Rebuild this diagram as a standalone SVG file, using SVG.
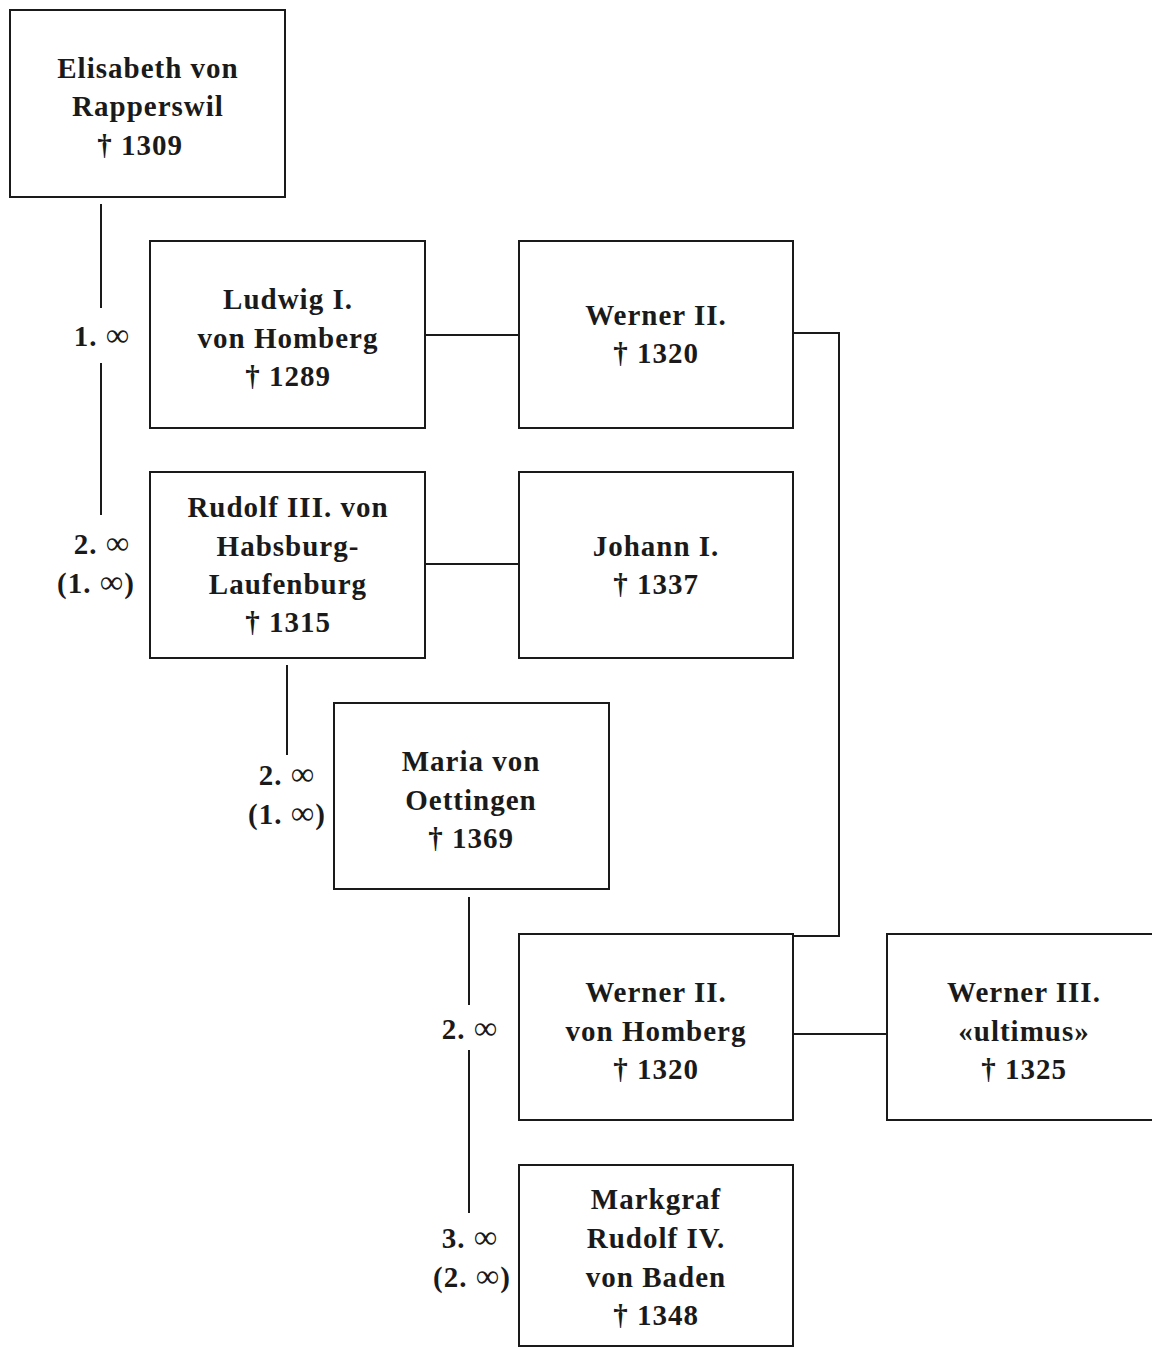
<svg xmlns="http://www.w3.org/2000/svg" width="1152" height="1348" viewBox="0 0 1152 1348">
<style>
.box{fill:#fff;stroke:#1a1a1a;stroke-width:2}
.ln{fill:none;stroke:#1a1a1a;stroke-width:2}
text{font-family:"Liberation Serif","DejaVu Serif",serif;font-weight:bold;font-size:29px;letter-spacing:1px;fill:#1a1a1a;text-anchor:middle}
.inf{font-size:33px;font-weight:normal}
</style>
<rect width="1152" height="1348" fill="#fff"/>
<g id="connectors">
<path class="ln" d="M101 204V308M101 363V515"/>
<path class="ln" d="M425 335H519"/>
<path class="ln" d="M793 333H839V936H793"/>
<path class="ln" d="M425 564H519"/>
<path class="ln" d="M287 665V755"/>
<path class="ln" d="M469 897V1005M469 1050V1213"/>
<path class="ln" d="M793 1034H887"/>
<text x="102" y="346">1. <tspan class="inf">∞</tspan></text>
<text x="102" y="554">2. <tspan class="inf">∞</tspan></text>
<text x="96" y="593">(1. <tspan class="inf">∞</tspan>)</text>
<text x="287" y="785">2. <tspan class="inf">∞</tspan></text>
<text x="287" y="824">(1. <tspan class="inf">∞</tspan>)</text>
<text x="470" y="1039">2. <tspan class="inf">∞</tspan></text>
<text x="470" y="1248">3. <tspan class="inf">∞</tspan></text>
<text x="472" y="1287">(2. <tspan class="inf">∞</tspan>)</text>
</g>
<g id="elisabeth">
<rect class="box" x="10" y="10" width="275" height="187"/>
<text x="148" y="78">Elisabeth von</text>
<text x="148" y="116">Rapperswil</text>
<text x="140" y="155">† 1309</text>
</g>
<g id="ludwig">
<rect class="box" x="150" y="241" width="275" height="187"/>
<text x="288" y="309">Ludwig I.</text>
<text x="288" y="348">von Homberg</text>
<text x="288" y="386">† 1289</text>
</g>
<g id="werner2a">
<rect class="box" x="519" y="241" width="274" height="187"/>
<text x="656" y="325">Werner II.</text>
<text x="656" y="363">† 1320</text>
</g>
<g id="rudolf3">
<rect class="box" x="150" y="472" width="275" height="186"/>
<text x="288" y="517">Rudolf III. von</text>
<text x="288" y="556">Habsburg-</text>
<text x="288" y="594">Laufenburg</text>
<text x="288" y="632">† 1315</text>
</g>
<g id="johann">
<rect class="box" x="519" y="472" width="274" height="186"/>
<text x="656" y="556">Johann I.</text>
<text x="656" y="594">† 1337</text>
</g>
<g id="maria">
<rect class="box" x="334" y="703" width="275" height="186"/>
<text x="471" y="771">Maria von</text>
<text x="471" y="810">Oettingen</text>
<text x="471" y="848">† 1369</text>
</g>
<g id="werner2b">
<rect class="box" x="519" y="934" width="274" height="186"/>
<text x="656" y="1002">Werner II.</text>
<text x="656" y="1041">von Homberg</text>
<text x="656" y="1079">† 1320</text>
</g>
<g id="werner3">
<rect class="box" x="887" y="934" width="290" height="186"/>
<text x="1024" y="1002">Werner III.</text>
<text x="1024" y="1041">«ultimus»</text>
<text x="1024" y="1079">† 1325</text>
</g>
<g id="markgraf">
<rect class="box" x="519" y="1165" width="274" height="181"/>
<text x="656" y="1209">Markgraf</text>
<text x="656" y="1248">Rudolf IV.</text>
<text x="656" y="1287">von Baden</text>
<text x="656" y="1325">† 1348</text>
</g>
</svg>
